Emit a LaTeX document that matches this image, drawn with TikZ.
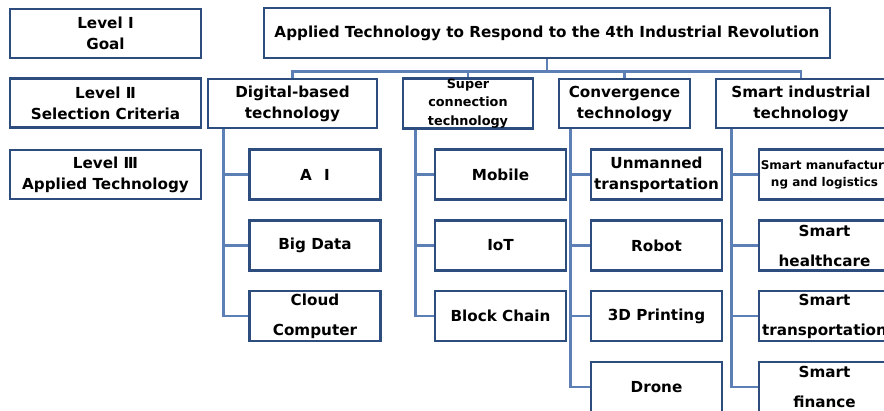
\documentclass[tikz,border=0pt]{standalone}
\usepackage{fontspec}
\setmainfont{DejaVu Sans}
\usetikzlibrary{positioning}

\definecolor{boxblue}{RGB}{44,77,125}
\definecolor{linkblue}{RGB}{92,128,182}

\tikzset{
  box/.style={draw=boxblue, line width=2.8pt, align=center, inner sep=0pt,
    font=\bfseries\fontsize{15.2}{21}\selectfont},
  levelbox/.style={box, minimum width=191pt, minimum height=49pt},
  critbox/.style={box, minimum height=49pt},
  techbox/.style={box, minimum width=131pt, minimum height=50pt},
  link/.style={draw=linkblue, line width=2.6pt}
}

\begin{document}
\begin{tikzpicture}[x=1pt, y=-1pt]
  \useasboundingbox (0,0) rectangle (884,410);
  \clip (0,0) rectangle (884,410);

  % Levels
  \node[levelbox] (lvlone) at (105.5,33.5) {Level Ⅰ\\Goal};
  \node[levelbox] (lvltwo) at (105.5,103) {Level Ⅱ\\Selection Criteria};
  \node[levelbox] (lvlthree) at (105.5,174.5) {Level Ⅲ\\Applied Technology};

  % Goal
  \node[box, minimum width=566pt, minimum height=50pt] (goal) at (547,33)
    {Applied Technology to Respond to the 4th Industrial Revolution};

  % Selection criteria
  \node[critbox, minimum width=169pt] (digital) at (292.5,103.5) {Digital-based\\technology};
  \node[critbox, minimum width=130pt, font=\bfseries\fontsize{12.8}{18.5}\selectfont]
    (super) at (468,103.5) {Super\\connection\\technology};
  \node[critbox, minimum width=131pt] (conv) at (624.5,103.5) {Convergence\\technology};
  \node[critbox, minimum width=170pt] (smart) at (801,103.5) {Smart industrial\\technology};

  % Applied technologies
  \node[techbox] (ai) at (315,174.5) {A\hspace{0.8em}I};
  \node[techbox] (bigdata) at (315,245.5) {Big Data};
  \node[techbox] (cloud) at (315,316) {Cloud\\[9pt]Computer};

  \node[techbox] (mobile) at (500.5,174.5) {Mobile};
  \node[techbox] (iot) at (500.5,245.5) {IoT};
  \node[techbox] (block) at (500.5,316) {Block Chain};

  \node[techbox] (unmanned) at (656.5,174.5) {Unmanned\\transportation};
  \node[techbox] (robot) at (656.5,245.5) {Robot};
  \node[techbox] (print) at (656.5,316) {3D Printing};
  \node[techbox] (drone) at (656.5,387) {Drone};

  \node[techbox, font=\bfseries\fontsize{12}{17}\selectfont]
    (manuf) at (824.5,174.5) {Smart manufacturi\\ng and logistics};
  \node[techbox] (health) at (824.5,245.5) {Smart\\[9pt]healthcare};
  \node[techbox] (transp) at (824.5,316) {Smart\\[9pt]transportation};
  \node[techbox] (finance) at (824.5,387) {Smart\\[9pt]finance};

  % Goal to criteria
  \foreach \c in {digital,super,conv,smart}
    \draw[link] (goal.south) -- ++(0,12) -| (\c.north);

  % Criteria to technologies
  \foreach \c/\s/\t in {digital/17/ai, digital/17/bigdata, digital/17/cloud,
                        super/14/mobile, super/14/iot, super/14/block,
                        conv/13/unmanned, conv/13/robot, conv/13/print, conv/13/drone,
                        smart/17/manuf, smart/17/health, smart/17/transp, smart/17/finance}
    \draw[link] ([xshift=\s pt]\c.south west) |- (\t.west);
\end{tikzpicture}
\end{document}
